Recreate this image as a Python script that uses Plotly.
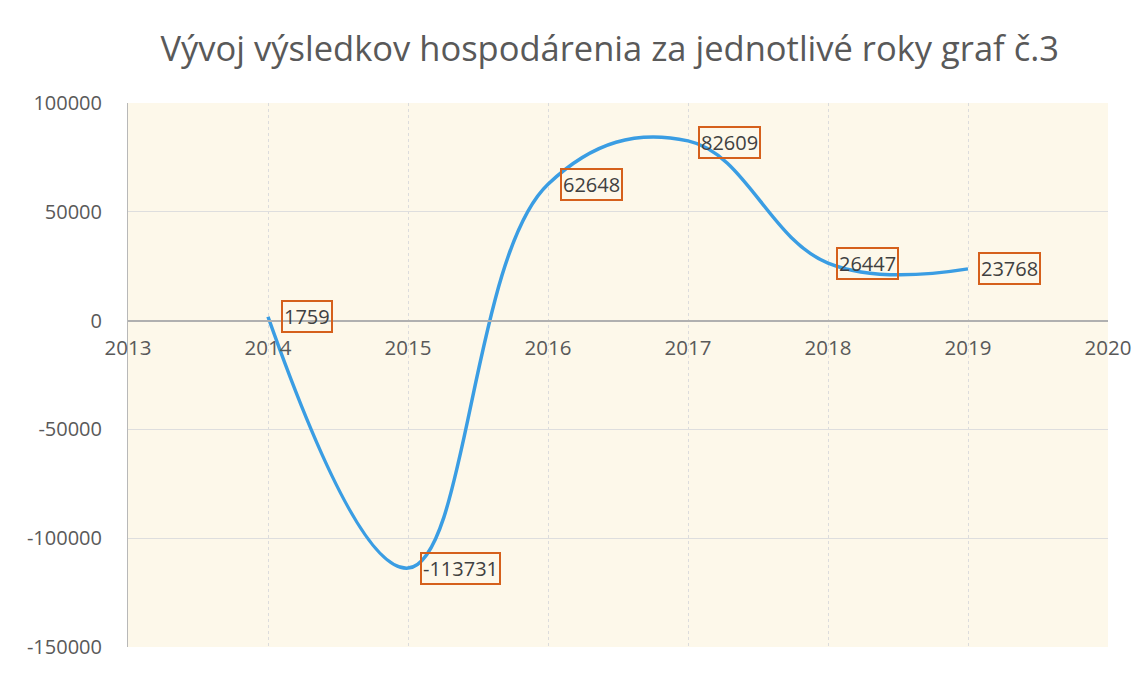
import plotly.graph_objects as go

years = [2014, 2015, 2016, 2017, 2018, 2019]
values = [1759, -113731, 62648, 82609, 26447, 23768]
labels = [str(v) for v in values]
x_ticks = [2013, 2014, 2015, 2016, 2017, 2018, 2019, 2020]
y_ticks = [-150000, -100000, -50000, 0, 50000, 100000]

title = "Vývoj výsledkov hospodárenia za jednotlivé roky graf č.3"

fig = go.Figure()
fig.add_trace(go.Scatter(
    x=years, y=values, mode="lines",
    line=dict(color="#3a9de3", width=3.5, shape="spline", smoothing=1.15),
    showlegend=False, hoverinfo="x+y",
))

# label offsets (pixels) roughly as seen in reference
shifts = [(13, 0), (12, 0), (12, 0), (10, -2), (8, 0), (10, 0)]
for x, y, t, (dx, dy) in zip(years, values, labels, shifts):
    fig.add_annotation(
        x=x, y=y, xref="x", yref="y", text=t, showarrow=False,
        xanchor="left", yanchor="middle", xshift=dx, yshift=dy,
        font=dict(family="Open Sans", size=20, color="#404040"),
        bordercolor="#d5601c", borderwidth=2, borderpad=1,
    )

ymin, ymax = -150000, 100000
fig.update_layout(
    width=1144, height=678,
    margin=dict(l=120, r=44, t=95, b=39),
    paper_bgcolor="#ffffff",
    plot_bgcolor="#fdf8ea",
    title=dict(text=title, x=0.526, xanchor="center", y=0.94, yanchor="middle",
               font=dict(family="Open Sans", size=34.5, color="#595959")),
    xaxis=dict(
        range=[2013, 2020], tickvals=x_ticks, ticktext=[str(v) for v in x_ticks],
        showgrid=True, gridcolor="#dcdcdc", griddash="dot", gridwidth=1,
        zeroline=False, showline=True, linecolor="#b0b0b0", linewidth=1.5,
        anchor="free", position=(0 - ymin) / (ymax - ymin),
        ticks="", ticklabelstandoff=9,
        tickfont=dict(family="Open Sans", size=20.5, color="#595959"),
    ),
    yaxis=dict(
        range=[ymin, ymax], tickvals=y_ticks, ticktext=[str(v) for v in y_ticks],
        showgrid=True, gridcolor="#dedede", gridwidth=1,
        zeroline=False, showline=True, linecolor="#b8b8b8", linewidth=1,
        ticks="", ticklabelstandoff=21,
        tickfont=dict(family="Open Sans", size=20, color="#595959"),
    ),
)

fig.write_html("out.html")
